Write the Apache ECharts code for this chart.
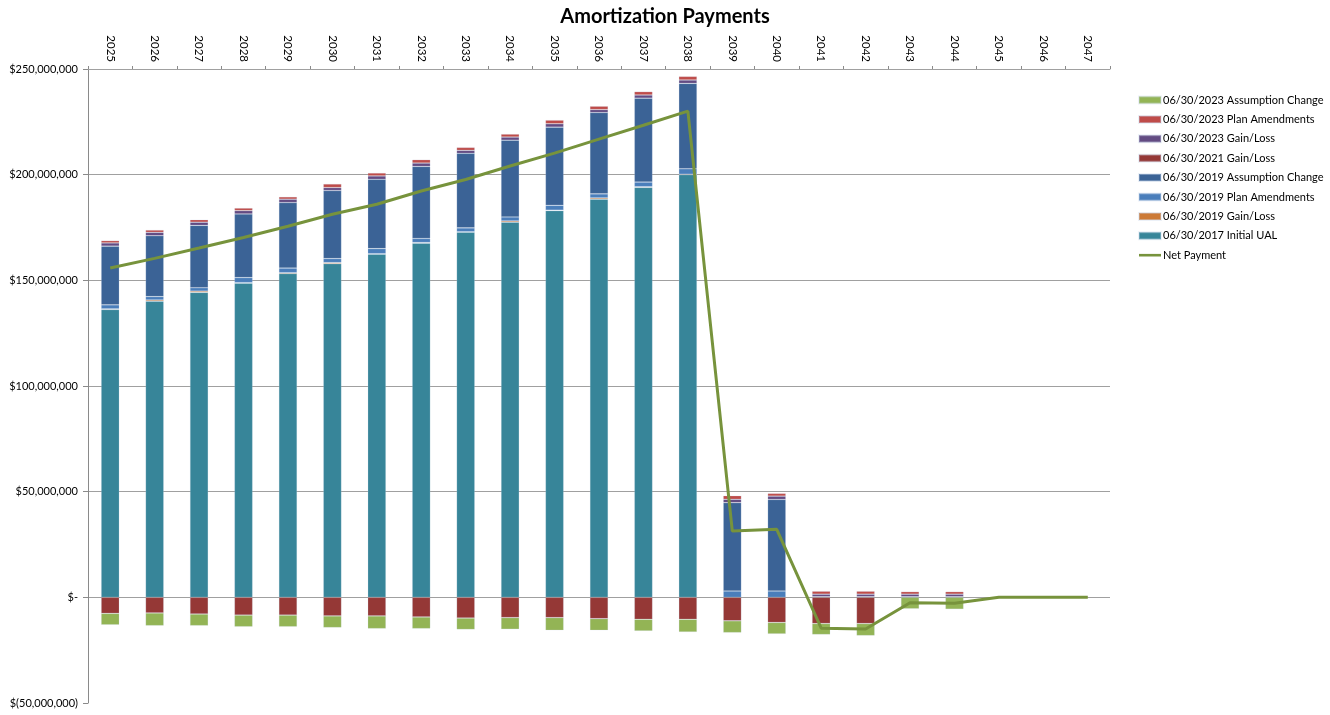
<!DOCTYPE html>
<html>
<head>
<meta charset="utf-8">
<title>Amortization Payments</title>
<script src="https://cdn.jsdelivr.net/npm/echarts@6/dist/echarts.min.js"></script>
<style>
  html, body { margin: 0; padding: 0; background: #fff; }
  #chart { width: 1330px; height: 715px; }
</style>
</head>
<body>
<div id="chart"></div>
<script>
// Fiscal years of the amortization schedule
const years = ['2025','2026','2027','2028','2029','2030','2031','2032','2033','2034','2035','2036',
               '2037','2038','2039','2040','2041','2042','2043','2044','2045','2046','2047'];

// Payments per amortization base, in $ millions
const initialUAL2017 = [136.2,140.1,144.3,148.7,153.2,157.9,162.4,167.6,172.8,177.5,183.0,188.4,194.0,200.0,0,0,0,0,0,0,0,0,0];
const gainLoss2019   = [0.3,0.6,0.6,0.2,0.4,0.5,0.2,0.3,0.2,0.6,0.2,0.6,0.3,0.2,0,0,0,0,0,0,0,0,0];
const planAmend2019  = [1.9,1.6,1.6,2.4,2.2,1.9,2.4,1.9,1.8,1.9,2.3,1.9,2.2,2.6,3.0,3.0,0.3,0.3,0.3,0.3,0,0,0];
const assumpChg2019  = [27.8,28.8,29.5,30.1,31.0,32.2,32.8,34.1,35.3,36.3,37.0,38.5,39.7,40.4,41.8,43.3,0,0,0,0,0,0,0];
const gainLoss2021   = [-7.6,-7.4,-7.9,-8.4,-8.4,-8.8,-8.8,-9.3,-9.8,-9.6,-9.6,-10.1,-10.4,-10.4,-11.1,-11.9,-12.4,-12.4,0,0,0,0,0];
const gainLoss2023   = [1.5,1.6,1.5,1.6,1.6,1.4,1.6,1.6,1.4,1.5,1.6,1.4,1.5,1.6,1.6,1.6,1.2,1.2,1.2,1.2,0,0,0];
const planAmend2023  = [1.1,1.1,1.2,1.2,1.1,1.7,1.4,1.6,1.4,1.4,1.7,1.6,1.6,1.7,1.7,1.3,1.4,1.4,1.2,1.2,0,0,0];
const assumpChg2023  = [-5.4,-6.0,-5.5,-5.5,-5.5,-5.5,-6.0,-5.5,-5.4,-5.5,-6.0,-5.5,-5.5,-6.0,-5.6,-5.4,-5.2,-5.7,-5.4,-5.6,0,0,0];
const netPayment     = [155.8,160.4,165.3,170.3,175.6,181.3,186.0,192.3,197.7,204.1,210.2,216.8,223.4,230.1,31.4,32.2,-14.6,-15.0,-2.6,-2.8,0,0,0];

// Y axis ticks, in dollars
const yTicks = { min: -50000000, max: 250000000, step: 50000000 };

const M = 1e6;
const toDollars = arr => arr.map(v => (v === 0 ? null : v * M));

function dollarLabel(v) {
  if (v === 0) return '$-';
  const s = Math.abs(v).toLocaleString('en-US');
  return v < 0 ? '$(' + s + ')' : '$' + s;
}

// Stack order from the zero line outward
const bases = [
  { name: '06/30/2017 Initial UAL',       data: initialUAL2017, color: '#378599' },
  { name: '06/30/2019 Gain/Loss',         data: gainLoss2019,   color: '#CC7A36' },
  { name: '06/30/2019 Plan Amendments',   data: planAmend2019,  color: '#4A7EBB' },
  { name: '06/30/2019 Assumption Change', data: assumpChg2019,  color: '#3B6396' },
  { name: '06/30/2021 Gain/Loss',         data: gainLoss2021,   color: '#953836' },
  { name: '06/30/2023 Gain/Loss',         data: gainLoss2023,   color: '#634B82' },
  { name: '06/30/2023 Plan Amendments',   data: planAmend2023,  color: '#BF4C49' },
  { name: '06/30/2023 Assumption Change', data: assumpChg2023,  color: '#93B455' }
];

const FONT = 'Lato, "Open Sans", sans-serif';

// Thin horizontal stroke for the line series' legend key (full-height bounding box keeps it thin)
const LINE_KEY = 'path://M0,0M0,2.2H22V4.8H0ZM22,7';

const series = bases.map(b => ({
  name: b.name,
  type: 'bar',
  stack: 'payments',
  barWidth: '41%',
  data: toDollars(b.data),
  itemStyle: { color: b.color, borderColor: 'rgba(200,215,235,0.35)', borderWidth: 0.6 },
  emphasis: { disabled: true }
}));

series.push({
  name: 'Net Payment',
  type: 'line',
  data: netPayment.map(v => v * M),
  symbol: 'none',
  z: 10,
  lineStyle: { color: '#77933C', width: 3 },
  itemStyle: { color: '#77933C' }
});

const legendOrder = bases.map(b => b.name).reverse().concat(['Net Payment']);

const chart = echarts.init(document.getElementById('chart'), null, { renderer: 'canvas' });
chart.setOption({
  animation: false,
  backgroundColor: '#ffffff',
  textStyle: { fontFamily: FONT },
  title: {
    text: 'Amortization Payments',
    left: 'center',
    top: 2,
    textStyle: { fontFamily: FONT, fontSize: 20, fontWeight: 'bold', color: '#000' }
  },
  legend: {
    orient: 'vertical',
    left: 1138,
    top: 93,
    padding: 0,
    data: legendOrder.map(n => n === 'Net Payment'
      ? { name: n, icon: LINE_KEY, itemStyle: { color: '#77933C' } }
      : { name: n, icon: 'rect' }),
    itemWidth: 22,
    itemHeight: 7,
    itemGap: 5.4,
    textStyle: { fontFamily: FONT, fontSize: 11, color: '#000', lineHeight: 14, padding: [0, 0, 0, -3] }
  },
  grid: { left: 88, right: 220, top: 69, bottom: 12, containLabel: false },
  xAxis: {
    type: 'category',
    position: 'top',
    data: years,
    axisLine: { onZero: false, lineStyle: { color: '#a0a0a0', width: 1 } },
    axisTick: { show: true, inside: false, length: 3, lineStyle: { color: '#8a8a8a' } },
    axisLabel: { rotate: 90, margin: 7, fontFamily: FONT, fontSize: 11.5, color: '#000' },
    splitLine: { show: false }
  },
  yAxis: {
    type: 'value',
    min: yTicks.min,
    max: yTicks.max,
    interval: yTicks.step,
    axisLine: { show: true, lineStyle: { color: '#8a8a8a', width: 1 } },
    axisTick: { show: true, length: 5, lineStyle: { color: '#8a8a8a' } },
    axisLabel: { formatter: dollarLabel, margin: 10, fontFamily: FONT, fontSize: 11, color: '#000' },
    splitLine: {
      show: true,
      lineStyle: { color: ['rgba(0,0,0,0)', '#a0a0a0', '#a0a0a0', '#a0a0a0', '#a0a0a0', '#a0a0a0', '#a0a0a0'], width: 1 }
    }
  },
  series: series
});
</script>
</body>
</html>
